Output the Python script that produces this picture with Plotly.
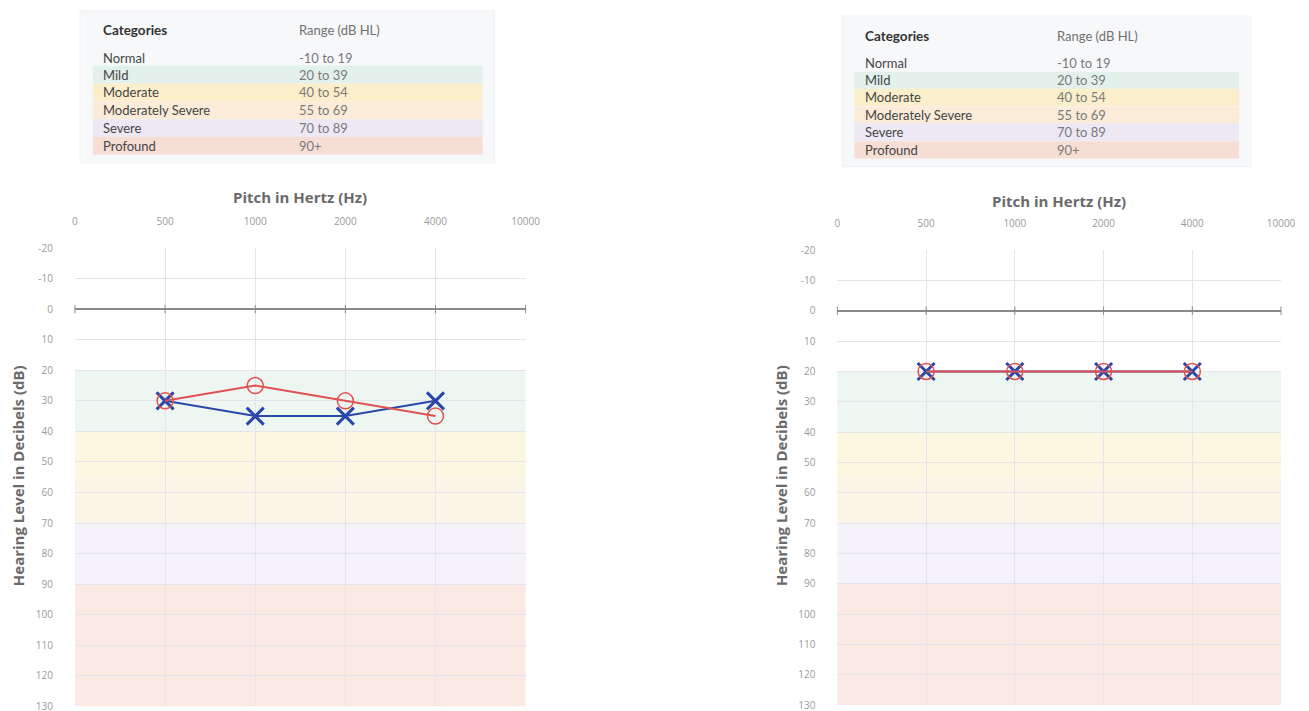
import plotly.graph_objects as go

W, H = 1309, 711

# ---------------- data ----------------
freq_labels = ["0", "500", "1000", "2000", "4000", "10000"]
db_ticks = list(range(-20, 131, 10))
db_tick_text = [str(v) for v in db_ticks]

categories = ["Normal", "Mild", "Moderate", "Moderately Severe", "Severe", "Profound"]
ranges_text = ["-10 to 19", "20 to 39", "40 to 54", "55 to 69", "70 to 89", "90+"]
band_low = [None, 20, 40, 55, 70, 90]
band_high = [None, 40, 55, 70, 90, 130]

test_freqs = ["500", "1000", "2000", "4000"]
left_red_db = [30, 25, 30, 35]     # circles
left_blue_db = [30, 35, 35, 30]    # crosses
right_red_db = [20, 20, 20, 20]
right_blue_db = [20, 20, 20, 20]

# ---------------- styles ----------------
band_colors = [None, "#eef6f2", "#fdf6e0", "#fdf4e8", "#f5f2f9", "#fbeae4"]
row_colors = [None, "#e3f0ec", "#fbefcb", "#fbebd9", "#ede8f3", "#f7ded5"]
RED = "rgb(222,82,82)"
BLUE = "rgb(42,70,168)"
GRID = "#e4e5ea"
TICKC = "#9a9a9a"
FONT = "Open Sans"
TFONT = "Lato"

# page placement compensation (screen px -> figure px)
SX, OX, OY = 0.987, 11, 15


def px(x):
    return ((x - OX) / SX) / W


def py(y):
    return 1 - ((y - OY) / SX) / H


fig = go.Figure()
shapes = []
annotations = []

charts = [
    dict(x0=75, x1=526, yt=249, yb=711, ax="", red=left_red_db, blue=left_blue_db,
         title_y=198, ytitle_x=18),
    dict(x0=838, x1=1282, yt=251, yb=710, ax="2", red=right_red_db, blue=right_blue_db,
         title_y=202, ytitle_x=781),
]

tables = [
    dict(bx0=80, bx1=495, by0=10, by1=163, rx0=93, rx1=483, cx=101, rgx=297,
         hy=29, rows_y=[57, 74, 92, 110, 128, 146]),
    dict(bx0=843, bx1=1252, by0=15, by1=167, rx0=855, rx1=1240, cx=864, rgx=1056,
         hy=35, rows_y=[62, 80, 97, 115, 132, 150]),
]

xidx = list(range(len(freq_labels)))

for c in charts:
    xa = "x" + c["ax"]
    ya = "y" + c["ax"]
    xlay = "xaxis" + c["ax"]
    ylay = "yaxis" + c["ax"]
    fig.update_layout(**{
        xlay: dict(domain=[px(c["x0"]), px(c["x1"])], anchor=ya, side="top",
                   range=[0, len(freq_labels) - 1], tickvals=xidx, ticktext=freq_labels,
                   showgrid=True, gridcolor=GRID, gridwidth=1, zeroline=False,
                   showline=False, ticks="", ticklabelstandoff=20,
                   tickfont=dict(family=FONT, size=10, color=TICKC), fixedrange=True),
        ylay: dict(domain=[py(c["yb"]), py(c["yt"])], anchor=xa,
                   range=[130, -20], tickvals=db_ticks, ticktext=db_tick_text,
                   showgrid=True, gridcolor=GRID, gridwidth=1,
                   zeroline=True, zerolinecolor="#8a8a8a", zerolinewidth=1.5,
                   showline=False, ticks="", ticklabelstandoff=21,
                   tickfont=dict(family=FONT, size=10, color=TICKC), fixedrange=True),
    })
    # hearing loss bands
    for lo, hi, col in zip(band_low, band_high, band_colors):
        if lo is None:
            continue
        shapes.append(dict(type="rect", xref=xa + " domain", yref=ya, x0=0, x1=1,
                           y0=lo, y1=hi, fillcolor=col, line=dict(width=0), layer="below"))
    # small ticks on zero line
    fig.add_trace(go.Scatter(x=xidx, y=[0] * len(xidx), xaxis=xa, yaxis=ya, mode="markers",
                             marker=dict(symbol="line-ns", size=6,
                                         line=dict(color="#8a8a8a", width=1)),
                             hoverinfo="skip", showlegend=False, cliponaxis=False))
    fx = [freq_labels.index(f) for f in test_freqs]
    fig.add_trace(go.Scatter(x=fx, y=c["blue"], xaxis=xa, yaxis=ya, mode="lines+markers",
                             line=dict(color=BLUE, width=2),
                             marker=dict(symbol="x-thin-open", size=17,
                                         line=dict(color=BLUE, width=3)),
                             showlegend=False, name="Left ear"))
    fig.add_trace(go.Scatter(x=fx, y=c["red"], xaxis=xa, yaxis=ya, mode="lines+markers",
                             line=dict(color=RED, width=2),
                             marker=dict(symbol="circle-open", size=16,
                                         line=dict(color=RED, width=1.5)),
                             showlegend=False, name="Right ear"))
    annotations.append(dict(xref="paper", yref="paper", x=px((c["x0"] + c["x1"]) / 2),
                            y=py(c["title_y"]), text="<b>Pitch in Hertz (Hz)</b>",
                            showarrow=False, xanchor="center", yanchor="middle",
                            font=dict(family=FONT, size=15, color="#6a6a6a")))
    annotations.append(dict(xref="paper", yref="paper", x=px(c["ytitle_x"]),
                            y=py((c["yt"] + c["yb"]) / 2 - 2),
                            text="<b>Hearing Level in Decibels (dB)</b>", textangle=-90,
                            showarrow=False, xanchor="center", yanchor="middle",
                            font=dict(family=FONT, size=15, color="#6a6a6a")))

for t in tables:
    shapes.append(dict(type="rect", xref="paper", yref="paper",
                       x0=px(t["bx0"]), x1=px(t["bx1"]), y0=py(t["by1"]), y1=py(t["by0"]),
                       fillcolor="#f7f8fa", line=dict(color="#f0f1f4", width=1), layer="below"))
    ys = t["rows_y"]
    h = (ys[-1] - ys[1]) / (len(ys) - 2)
    for i, (cat, rng, col) in enumerate(zip(categories, ranges_text, row_colors)):
        y = ys[i]
        if col is not None:
            shapes.append(dict(type="rect", xref="paper", yref="paper",
                               x0=px(t["rx0"]), x1=px(t["rx1"]),
                               y0=py(y + h / 2), y1=py(y - h / 2),
                               fillcolor=col, line=dict(width=0), layer="below"))
        annotations.append(dict(xref="paper", yref="paper", x=px(t["cx"]), y=py(y),
                                text=cat, showarrow=False, xanchor="left", yanchor="middle",
                                font=dict(family=TFONT, size=13, color="#454545")))
        annotations.append(dict(xref="paper", yref="paper", x=px(t["rgx"]), y=py(y),
                                text=rng, showarrow=False, xanchor="left", yanchor="middle",
                                font=dict(family=TFONT, size=13, color="#7a7a7a")))
    annotations.append(dict(xref="paper", yref="paper", x=px(t["cx"]), y=py(t["hy"]),
                            text="<b>Categories</b>", showarrow=False, xanchor="left",
                            yanchor="middle", font=dict(family=TFONT, size=13.5, color="#333333")))
    annotations.append(dict(xref="paper", yref="paper", x=px(t["rgx"]), y=py(t["hy"]),
                            text="Range (dB HL)", showarrow=False, xanchor="left",
                            yanchor="middle", font=dict(family=TFONT, size=13, color="#707070")))

fig.update_layout(width=W, height=H, margin=dict(l=0, r=0, t=0, b=0),
                  paper_bgcolor="white", plot_bgcolor="white",
                  shapes=shapes, annotations=annotations, showlegend=False)

fig.write_html("out.html", config={"displayModeBar": False})
